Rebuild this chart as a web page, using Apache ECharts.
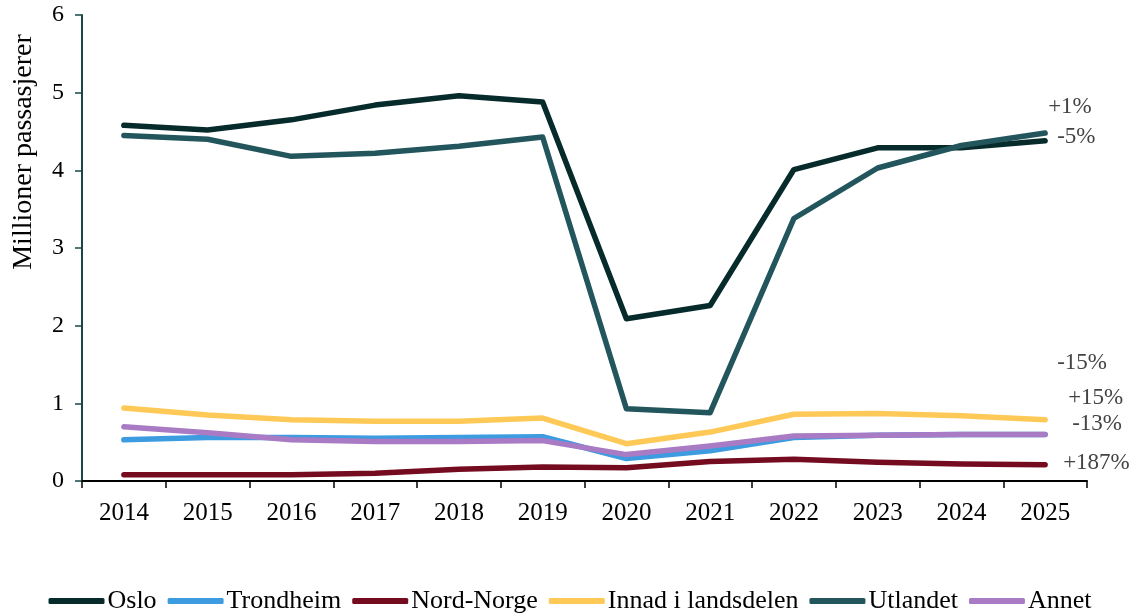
<!DOCTYPE html>
<html>
<head>
<meta charset="utf-8">
<script src="https://cdn.jsdelivr.net/npm/echarts@6/dist/echarts.min.js"></script>
<style>
  html, body { margin: 0; padding: 0; background: #fff; }
  #chart { width: 1140px; height: 614px; }
</style>
</head>
<body>
<div id="chart"></div>
<script>
// år
var years = ['2014', '2015', '2016', '2017', '2018', '2019', '2020', '2021', '2022', '2023', '2024', '2025']
// millioner passasjerer per gruppe
var oslo = [4.58, 4.52, 4.65, 4.84, 4.96, 4.88, 2.09, 2.26, 4.01, 4.29, 4.29, 4.38]
var trondheim = [0.53, 0.56, 0.56, 0.55, 0.56, 0.57, 0.29, 0.39, 0.56, 0.59, 0.60, 0.60]
var nordNorge = [0.08, 0.08, 0.08, 0.10, 0.15, 0.18, 0.17, 0.25, 0.28, 0.24, 0.22, 0.21]
var innad = [0.94, 0.85, 0.79, 0.77, 0.77, 0.81, 0.48, 0.63, 0.86, 0.87, 0.84, 0.79]
var utlandet = [4.45, 4.40, 4.18, 4.22, 4.31, 4.43, 0.93, 0.88, 3.38, 4.03, 4.32, 4.48]
var annet = [0.70, 0.62, 0.53, 0.51, 0.51, 0.52, 0.34, 0.45, 0.58, 0.59, 0.60, 0.60]
// endring 2014-2025
var endring = ['-5%', '+15%', '+187%', '-15%', '+1%', '-13%']
var yTicks = [0, 1, 2, 3, 4, 5, 6]

var font = '"Liberation Serif", "DejaVu Serif", serif'
var names = ['Oslo', 'Trondheim', 'Nord-Norge', 'Innad i landsdelen', 'Utlandet', 'Annet']
var colors = ['#062b2a', '#3d9be0', '#740b1f', '#ffc957', '#22555c', '#a97bc5']
var values = [oslo, trondheim, nordNorge, innad, utlandet, annet]
// forskyvning av sluttetiketter
var labelOffsets = [[8, -4], [19, -36], [14, -2], [8, -57], [-1, -26], [23, -10]]

var myChart = echarts.init(document.getElementById('chart'))
myChart.setOption({
  animation: false,
  textStyle: { fontFamily: font },
  grid: { left: 82, right: 53, top: 15, bottom: 133, containLabel: false },
  legend: {
    top: 583,
    left: 'center',
    icon: 'roundRect',
    itemWidth: 56,
    itemHeight: 6,
    itemGap: 11,
    textStyle: { fontFamily: font, fontSize: 26, color: '#000', padding: [0, 0, 0, -2] },
    data: names
  },
  graphic: [{
    type: 'text',
    x: 10,
    y: 152,
    rotation: Math.PI / 2,
    style: {
      text: 'Millioner passasjerer',
      font: '28px ' + font,
      fill: '#000',
      align: 'center',
      verticalAlign: 'top'
    }
  }],
  xAxis: {
    type: 'category',
    data: years,
    boundaryGap: true,
    axisLine: { lineStyle: { color: '#000', width: 2 } },
    axisTick: { show: true, length: 7, lineStyle: { color: '#000', width: 1.5 } },
    axisLabel: { fontSize: 25, color: '#000', margin: 20, fontFamily: font }
  },
  yAxis: {
    type: 'value',
    min: yTicks[0],
    max: yTicks[yTicks.length - 1],
    interval: 1,
    splitLine: { show: false },
    axisLine: { show: true, lineStyle: { color: '#1b4748', width: 2 } },
    axisTick: { show: true, length: 7, lineStyle: { color: '#1b4748', width: 1.5 } },
    axisLabel: { fontSize: 24, color: '#000', margin: 18, fontFamily: font }
  },
  series: names.map(function (n, i) {
    return {
      name: n,
      type: 'line',
      data: values[i],
      symbol: 'none',
      color: colors[i],
      lineStyle: { width: 5.5, color: colors[i], cap: 'round', join: 'round' },
      endLabel: {
        show: true,
        formatter: endring[i],
        fontFamily: font,
        fontSize: 23,
        color: '#444',
        distance: 4,
        offset: labelOffsets[i]
      },
      z: [3, 4, 2, 2, 3, 5][i]
    }
  })
})
</script>
</body>
</html>
